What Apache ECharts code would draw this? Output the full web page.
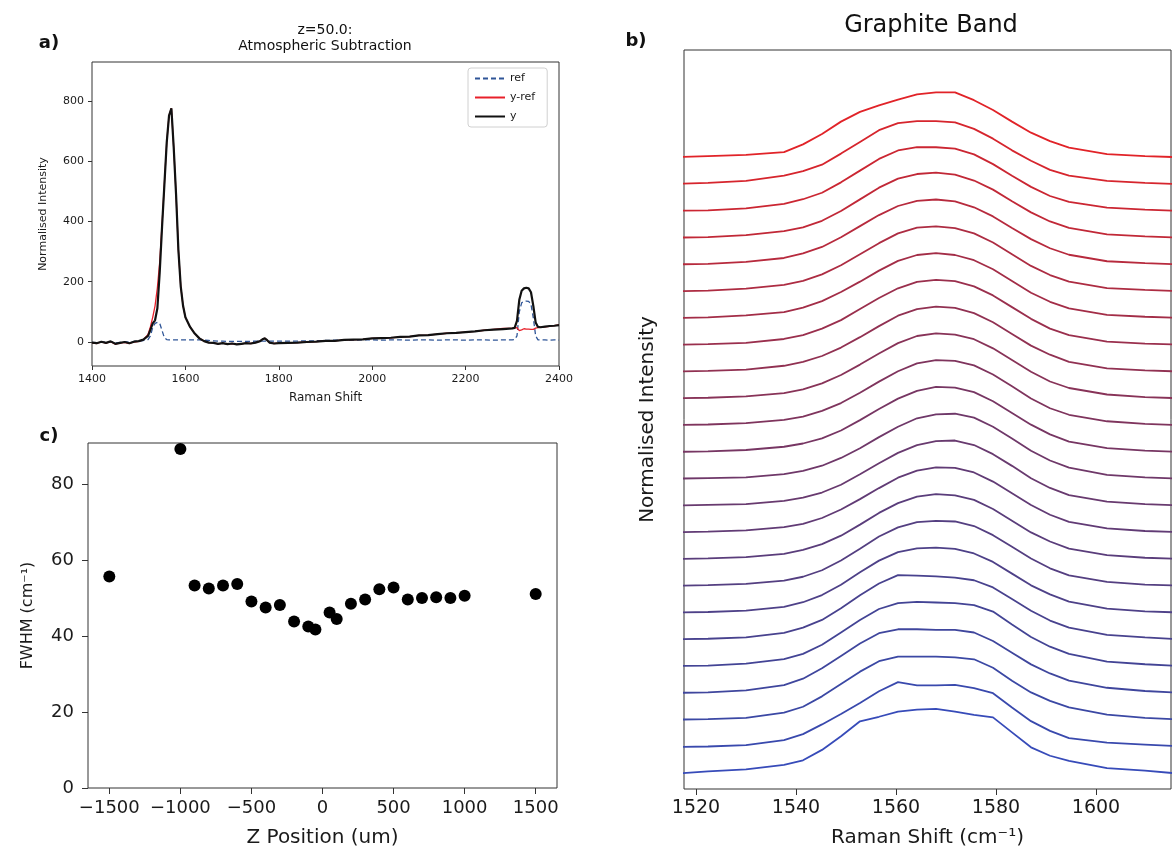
<!DOCTYPE html>
<html>
<head>
<meta charset="utf-8">
<title>Graphite band</title>
<script src="https://cdn.jsdelivr.net/npm/echarts@6/dist/echarts.min.js"></script>
<style>
  html, body { margin: 0; padding: 0; background: #fff; }
  #chart { width: 1172px; height: 853px; }
</style>
</head>
<body>
<div id="chart"></div>
<script>
// a) atmospheric subtraction, z = 50.0
const ramanShift = [
  1400, 1410, 1420, 1430, 1440, 1450, 1460, 1470, 1480, 1490, 1500, 1510,
  1520, 1525, 1530, 1535, 1540, 1545, 1550, 1555, 1560, 1565, 1570, 1575, 1580, 1585, 1590, 1595, 1600,
  1610, 1620, 1630, 1640, 1650, 1660, 1670, 1680, 1690, 1700, 1710, 1720, 1730, 1740, 1750, 1760,
  1765, 1770, 1775, 1780, 1790, 1800,
  1820, 1840, 1860, 1880, 1900, 1920, 1940, 1960, 1980, 2000, 2020, 2040, 2060, 2080, 2100, 2120, 2140, 2160, 2180, 2200, 2220, 2240, 2260, 2280,
  2300, 2305, 2310, 2315, 2320, 2325, 2330, 2335, 2340, 2345, 2350, 2355, 2360,
  2370, 2380, 2390, 2400
];
const refIntensity = [
  -1, -2, 0, -1, 1, -3, -1, 1, -1, 2, 3, 5,
  8, 20, 48, 62, 65, 62, 38, 14, 8, 7, 7, 7, 7, 7, 7, 7, 7,
  7, 7, 7, 6, 5, 4, 3, 3, 2, 2, 2, 2, 2, 2, 3, 3,
  3, 3, 3, 3, 3, 3,
  3, 3, 4, 4, 5, 6, 7, 6, 7, 7, 6, 7, 7, 6, 7, 7, 6, 7, 7, 6, 7, 7, 6, 7,
  7, 8, 20, 100, 130, 135, 136, 135, 125, 80, 20, 7, 7,
  7, 6, 7, 6
];
const subtractedIntensity = [
  -3, -5, 0, -4, 1, -7, -4, -1, -5, 0, 2, 8,
  25, 50, 82, 120, 180, 265, 390, 525, 662, 752, 776, 645, 490, 305, 185, 120, 82,
  50, 28, 12, 3, -2, -3, -6, -4, -7, -5, -8, -6, -4, -5, -2, 3,
  9, 12, 6, -2, -5, -4,
  -3, -2, 0, 1, 4, 4, 7, 8, 9, 12, 13, 14, 17, 18, 22, 23, 26, 29, 30, 33, 35, 39, 42, 45,
  45, 46, 48, 38, 40, 44, 43, 43, 42, 42, 46, 48, 49,
  50, 52, 54, 57
];
const rawIntensity = [
  -2, -4, 1, -3, 2, -6, -3, 0, -4, 1, 3, 8,
  20, 40, 62, 72, 112, 232, 382, 522, 662, 752, 776, 645, 490, 305, 185, 120, 82,
  50, 28, 12, 3, -2, -3, -6, -4, -7, -5, -8, -6, -4, -5, -2, 3,
  9, 12, 6, -2, -5, -4,
  -3, -2, 0, 1, 4, 4, 7, 8, 9, 12, 13, 14, 17, 18, 22, 23, 26, 29, 30, 33, 35, 39, 41, 43,
  45, 47, 70, 140, 170, 178, 180, 178, 165, 120, 65, 50, 49,
  51, 53, 54, 56
];

// b) graphite band, normalised spectra, one per z position (bottom to top)
const bandShift = [1514.8, 1522.4, 1530.0, 1537.6, 1541.4, 1545.2, 1549.0, 1552.8, 1556.6, 1560.4, 1564.2,
  1568.0, 1571.8, 1575.6, 1579.4, 1583.2, 1587.0, 1590.8, 1594.6, 1602.2, 1609.8, 1617.4];
const band_m1500 = [-0.01, 0.03, 0.06, 0.13, 0.20, 0.36, 0.57, 0.80, 0.87, 0.95, 0.98, 0.99, 0.95, 0.90, 0.86, 0.63, 0.40, 0.27, 0.19, 0.08, 0.04, -0.01];
const band_m1000 = [-0.01, 0.00, 0.02, 0.10, 0.19, 0.34, 0.50, 0.67, 0.85, 0.99, 0.94, 0.94, 0.95, 0.90, 0.82, 0.60, 0.39, 0.24, 0.13, 0.06, 0.03, 0.00];
const band_m900 = [0.00, 0.01, 0.03, 0.11, 0.20, 0.36, 0.55, 0.74, 0.90, 0.97, 0.97, 0.97, 0.96, 0.93, 0.80, 0.60, 0.42, 0.29, 0.19, 0.08, 0.03, 0.00];
const band_m800 = [0.00, 0.01, 0.04, 0.12, 0.22, 0.38, 0.57, 0.76, 0.92, 0.98, 0.98, 0.97, 0.97, 0.93, 0.80, 0.62, 0.44, 0.30, 0.19, 0.08, 0.03, 0.00];
const band_m700 = [0.00, 0.01, 0.04, 0.11, 0.19, 0.33, 0.52, 0.71, 0.88, 0.97, 0.99, 0.98, 0.97, 0.94, 0.84, 0.64, 0.45, 0.30, 0.19, 0.07, 0.03, 0.00];
const band_m600 = [0.00, 0.01, 0.03, 0.10, 0.18, 0.30, 0.48, 0.68, 0.86, 0.99, 0.98, 0.97, 0.95, 0.91, 0.80, 0.62, 0.44, 0.29, 0.18, 0.07, 0.03, 0.00];
const band_m500 = [0.00, 0.01, 0.03, 0.09, 0.16, 0.27, 0.43, 0.62, 0.80, 0.93, 0.99, 1.00, 0.98, 0.91, 0.78, 0.60, 0.42, 0.28, 0.17, 0.06, 0.02, 0.00];
const band_m400 = [0.00, 0.01, 0.03, 0.08, 0.14, 0.24, 0.39, 0.57, 0.76, 0.90, 0.98, 1.00, 0.99, 0.92, 0.78, 0.60, 0.42, 0.27, 0.16, 0.06, 0.02, 0.00];
const band_m300 = [0.00, 0.01, 0.03, 0.08, 0.14, 0.23, 0.36, 0.53, 0.71, 0.86, 0.96, 1.00, 0.98, 0.91, 0.77, 0.59, 0.41, 0.27, 0.16, 0.06, 0.02, 0.00];
const band_m200 = [0.00, 0.01, 0.03, 0.08, 0.13, 0.22, 0.35, 0.51, 0.68, 0.84, 0.95, 1.00, 0.99, 0.92, 0.78, 0.60, 0.42, 0.27, 0.16, 0.06, 0.02, 0.00];
const band_m100 = [0.00, 0.01, 0.02, 0.07, 0.12, 0.20, 0.32, 0.48, 0.65, 0.81, 0.93, 0.99, 1.00, 0.93, 0.79, 0.61, 0.42, 0.27, 0.16, 0.06, 0.02, 0.00];
const band_m50 = [0.00, 0.01, 0.02, 0.07, 0.12, 0.20, 0.32, 0.47, 0.64, 0.80, 0.93, 0.99, 1.00, 0.94, 0.80, 0.62, 0.43, 0.28, 0.17, 0.06, 0.02, 0.00];
const band_p50 = [0.00, 0.01, 0.03, 0.08, 0.13, 0.21, 0.33, 0.49, 0.66, 0.82, 0.94, 1.00, 0.99, 0.92, 0.78, 0.60, 0.42, 0.27, 0.16, 0.06, 0.02, 0.00];
const band_p100 = [0.00, 0.01, 0.03, 0.08, 0.13, 0.22, 0.34, 0.50, 0.67, 0.83, 0.95, 1.00, 0.99, 0.92, 0.78, 0.60, 0.41, 0.26, 0.16, 0.06, 0.02, 0.00];
const band_p200 = [0.00, 0.01, 0.03, 0.08, 0.14, 0.23, 0.36, 0.52, 0.69, 0.85, 0.96, 1.00, 0.98, 0.91, 0.77, 0.59, 0.41, 0.26, 0.16, 0.06, 0.02, 0.00];
const band_p300 = [0.00, 0.01, 0.03, 0.09, 0.15, 0.24, 0.37, 0.53, 0.70, 0.86, 0.96, 1.00, 0.98, 0.90, 0.76, 0.58, 0.40, 0.26, 0.15, 0.05, 0.02, 0.00];
const band_p400 = [0.00, 0.01, 0.03, 0.09, 0.15, 0.25, 0.38, 0.55, 0.72, 0.87, 0.97, 1.00, 0.98, 0.90, 0.76, 0.58, 0.40, 0.25, 0.15, 0.05, 0.02, 0.00];
const band_p500 = [0.00, 0.01, 0.04, 0.09, 0.16, 0.26, 0.40, 0.56, 0.73, 0.88, 0.97, 1.00, 0.97, 0.89, 0.75, 0.57, 0.39, 0.25, 0.15, 0.05, 0.02, 0.00];
const band_p600 = [0.00, 0.01, 0.04, 0.10, 0.16, 0.26, 0.40, 0.57, 0.74, 0.89, 0.98, 1.00, 0.97, 0.89, 0.75, 0.57, 0.39, 0.25, 0.15, 0.05, 0.02, 0.00];
const band_p700 = [0.00, 0.01, 0.04, 0.10, 0.17, 0.27, 0.42, 0.59, 0.76, 0.90, 0.98, 1.00, 0.97, 0.88, 0.74, 0.56, 0.39, 0.25, 0.15, 0.05, 0.02, 0.00];
const band_p800 = [0.00, 0.01, 0.04, 0.10, 0.16, 0.26, 0.41, 0.59, 0.77, 0.91, 0.98, 1.00, 0.97, 0.88, 0.74, 0.56, 0.39, 0.25, 0.15, 0.05, 0.02, 0.00];
const band_p900 = [0.00, 0.01, 0.04, 0.11, 0.18, 0.28, 0.44, 0.62, 0.80, 0.93, 0.98, 0.98, 0.96, 0.87, 0.72, 0.54, 0.37, 0.23, 0.14, 0.05, 0.02, 0.00];
const band_p1000 = [0.00, 0.02, 0.05, 0.13, 0.20, 0.30, 0.47, 0.65, 0.83, 0.94, 0.97, 0.97, 0.95, 0.85, 0.70, 0.52, 0.36, 0.22, 0.13, 0.05, 0.02, 0.00];
const band_p1500 = [0.00, 0.02, 0.04, 0.08, 0.20, 0.36, 0.55, 0.70, 0.80, 0.89, 0.97, 1.00, 1.00, 0.88, 0.73, 0.55, 0.38, 0.25, 0.15, 0.05, 0.02, 0.00];
const bandOffset = 0.412;

// c) FWHM of the graphite band against z position
const zPosition = [-1500, -1000, -900, -800, -700, -600, -500, -400, -300, -200, -100, -50,
  50, 100, 200, 300, 400, 500, 600, 700, 800, 900, 1000, 1500];
const fwhm = [55.8, 89.4, 53.4, 52.6, 53.4, 53.8, 49.2, 47.6, 48.3, 43.9, 42.6, 41.8,
  46.3, 44.6, 48.6, 49.7, 52.4, 52.9, 49.7, 50.1, 50.3, 50.1, 50.7, 51.2];

// tick labels
const shiftTicksA = [1400, 1600, 1800, 2000, 2200, 2400];
const intensityTicksA = [0, 200, 400, 600, 800];
const shiftTicksB = [1520, 1540, 1560, 1580, 1600];
const zTicks = [-1500, -1000, -500, 0, 500, 1000, 1500];
const fwhmTicks = [0, 20, 40, 60, 80];

const FONT = 'DejaVu Sans';
const TEXT = '#1a1a1a';
const FRAME = '#333';

const bandSpectra = [band_m1500, band_m1000, band_m900, band_m800, band_m700, band_m600, band_m500,
  band_m400, band_m300, band_m200, band_m100, band_m50, band_p50, band_p100, band_p200, band_p300,
  band_p400, band_p500, band_p600, band_p700, band_p800, band_p900, band_p1000, band_p1500];

const chart = echarts.init(document.getElementById('chart'));

const pairs = (xs, ys) => xs.map((x, i) => [x, ys[i]]);

// matplotlib style numbers: no thousands separator, real minus sign
const plainNumber = (v) => (v < 0 ? '\u2212' + Math.abs(v) : String(v));

// blue (bottom) through dark purple to red (top)
const bandColor = (i) => {
  const t = i / (bandSpectra.length - 1);
  const r = Math.round(55 + 170 * Math.pow(t, 1.5));
  const g = Math.round(75 - 40 * t);
  const b = Math.round(185 - 145 * Math.pow(t, 0.8));
  return `rgb(${r},${g},${b})`;
};

const valueAxis = (extra) => Object.assign({
  type: 'value',
  axisLine: { show: false, onZero: false },
  splitLine: { show: false },
  nameLocation: 'middle',
}, extra);

const ticks = (length, values) => ({
  show: true, length, customValues: values, lineStyle: { color: FRAME, width: 1 },
});
const labels = (fontSize, margin, values) => ({
  color: TEXT, fontSize, fontFamily: FONT, margin, customValues: values, formatter: plainNumber,
});
const nameStyle = (fontSize) => ({ color: TEXT, fontFamily: FONT, fontSize });

const textEl = (text, x, y, fontSize, fontWeight) => ({
  type: 'text',
  x, y,
  silent: true,
  style: {
    text,
    fill: '#111',
    font: `${fontWeight || 'normal'} ${fontSize}px "${FONT}"`,
    align: 'center', verticalAlign: 'middle',
    textAlign: 'center', textVerticalAlign: 'middle',
  },
});

const option = {
  animation: false,
  backgroundColor: '#fff',
  textStyle: { fontFamily: FONT },
  graphic: [
    textEl('a)', 49, 43, 18, 'bold'),
    textEl('b)', 636, 41, 18, 'bold'),
    textEl('c)', 49, 436, 18, 'bold'),
    textEl('z=50.0:', 325, 30, 14),
    textEl('Atmospheric Subtraction', 325, 46, 14),
    textEl('Graphite Band', 931, 26, 24),
  ],
  legend: {
    data: ['ref', 'y-ref', 'y'],
    orient: 'vertical',
    left: 468,
    top: 68,
    itemWidth: 30,
    itemHeight: 12,
    itemGap: 8,
    padding: [5, 12, 5, 6],
    borderColor: '#d0d0d0',
    borderWidth: 1,
    borderRadius: 3,
    backgroundColor: 'rgba(255,255,255,0.8)',
    selectedMode: false,
    itemStyle: { opacity: 0 },
    textStyle: { fontSize: 11, color: TEXT, fontFamily: FONT },
  },
  grid: [
    { left: 92, top: 62, width: 467, height: 304, show: true, borderColor: FRAME, borderWidth: 1 },
    { left: 684, top: 50, width: 487, height: 739, show: true, borderColor: FRAME, borderWidth: 1 },
    { left: 88, top: 443, width: 469, height: 345, show: true, borderColor: FRAME, borderWidth: 1 },
  ],
  xAxis: [
    valueAxis({
      gridIndex: 0, min: 1400, max: 2400,
      name: 'Raman Shift', nameGap: 26, nameTextStyle: nameStyle(12),
      axisTick: ticks(4, shiftTicksA),
      axisLabel: labels(11, 8, shiftTicksA),
    }),
    valueAxis({
      gridIndex: 1, min: 1517.6, max: 1615,
      name: 'Raman Shift (cm⁻¹)', nameGap: 39, nameTextStyle: nameStyle(20),
      axisTick: ticks(6, shiftTicksB),
      axisLabel: labels(19, 10, shiftTicksB),
    }),
    valueAxis({
      gridIndex: 2, min: -1650, max: 1650,
      name: 'Z Position (um)', nameGap: 40, nameTextStyle: nameStyle(20),
      axisTick: ticks(6, zTicks),
      axisLabel: labels(18, 11, zTicks),
    }),
  ],
  yAxis: [
    valueAxis({
      gridIndex: 0, min: -79.7, max: 929.5,
      name: 'Normalised Intensity', nameGap: 43, nameTextStyle: nameStyle(11),
      axisTick: ticks(4, intensityTicksA),
      axisLabel: labels(11, 8, intensityTicksA),
    }),
    valueAxis({
      gridIndex: 1, min: -0.2415, max: 11.128,
      name: 'Normalised Intensity', nameGap: 26, nameTextStyle: nameStyle(20),
      axisTick: { show: false },
      axisLabel: { show: false },
    }),
    valueAxis({
      gridIndex: 2, min: 0, max: 91,
      name: 'FWHM (cm⁻¹)', nameGap: 52, nameTextStyle: nameStyle(16),
      axisTick: ticks(6, fwhmTicks),
      axisLabel: labels(18, 14, fwhmTicks),
    }),
  ],
  series: [
    {
      name: 'ref', type: 'line', xAxisIndex: 0, yAxisIndex: 0,
      symbol: 'none',
      lineStyle: { color: '#2f5597', width: 1.3, type: [5, 3] },
      itemStyle: { color: '#2f5597' },
      data: pairs(ramanShift, refIntensity),
    },
    {
      name: 'y-ref', type: 'line', xAxisIndex: 0, yAxisIndex: 0,
      symbol: 'none',
      lineStyle: { color: '#e8202a', width: 1.3 },
      itemStyle: { color: '#e8202a' },
      data: pairs(ramanShift, subtractedIntensity),
    },
    {
      name: 'y', type: 'line', xAxisIndex: 0, yAxisIndex: 0,
      symbol: 'none',
      lineStyle: { color: '#111', width: 2.2 },
      itemStyle: { color: '#111' },
      data: pairs(ramanShift, rawIntensity),
    },
    ...bandSpectra.map((values, i) => ({
      name: 'z' + zPosition[i],
      type: 'line', xAxisIndex: 1, yAxisIndex: 1,
      symbol: 'none',
      clip: true,
      lineStyle: { color: bandColor(i), width: 1.8 },
      data: bandShift.map((x, k) => [x, values[k] + i * bandOffset]),
    })),
    {
      name: 'FWHM', type: 'scatter', xAxisIndex: 2, yAxisIndex: 2,
      symbol: 'circle', symbolSize: 12,
      itemStyle: { color: '#000', opacity: 1 },
      data: pairs(zPosition, fwhm),
    },
  ],
};

chart.setOption(option);
</script>
</body>
</html>
